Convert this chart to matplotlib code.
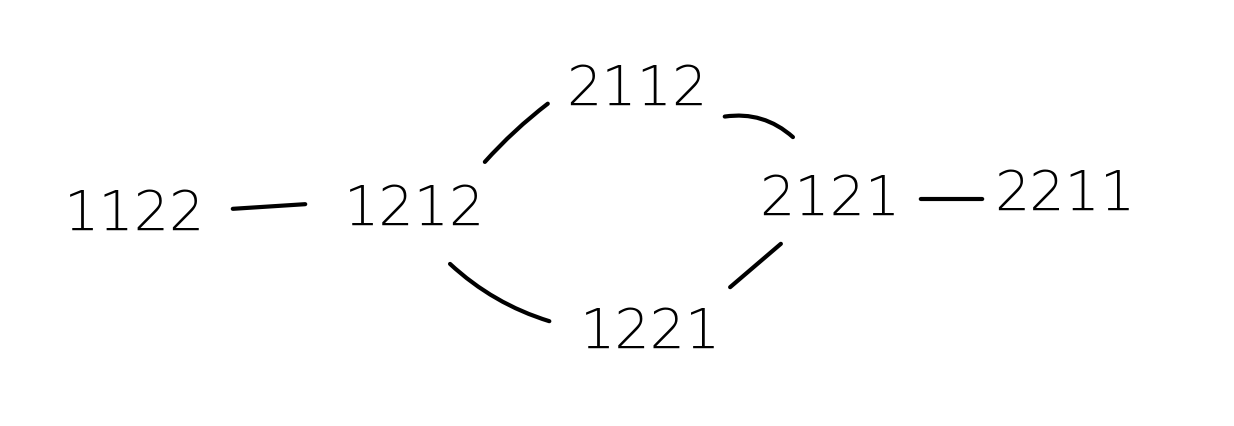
import matplotlib
matplotlib.use("Agg")
import matplotlib.pyplot as plt

labels = ["1122", "1212", "2112", "2121", "2211", "1221"]
node_x = [135, 415, 637, 830, 1065, 650]
node_y = [215, 210, 90, 200, 195, 333]
edges = [(0, 1), (1, 2), (2, 3), (3, 4), (3, 5), (1, 5)]
# line segments in pixel coords (start, end) for each edge
seg_start = [(230, 210), (483, 165), (722, 118), (918, 200), (783, 243), (448, 263)]
seg_end = [(308, 205), (550, 103), (795, 140), (985, 200), (728, 290), (552, 323)]
edge_rad = [0.0, -0.05, -0.25, 0.0, 0.0, 0.12]

fig = plt.figure(figsize=(12.34, 4.27), dpi=100)
ax = fig.add_axes([0, 0, 1, 1])
ax.set_xlim(0, 1234)
ax.set_ylim(427, 0)
ax.axis("off")

for lab, x, y in zip(labels, node_x, node_y):
    ax.text(x, y, lab, fontsize=40, ha="center", va="center",
            family="DejaVu Sans", fontweight="light", color="black")

for s, e, rad in zip(seg_start, seg_end, edge_rad):
    ax.annotate("", xy=e, xytext=s,
                arrowprops=dict(arrowstyle="-", lw=3, color="black",
                                connectionstyle=f"arc3,rad={rad}"))

fig.savefig("out.png", dpi=100)
